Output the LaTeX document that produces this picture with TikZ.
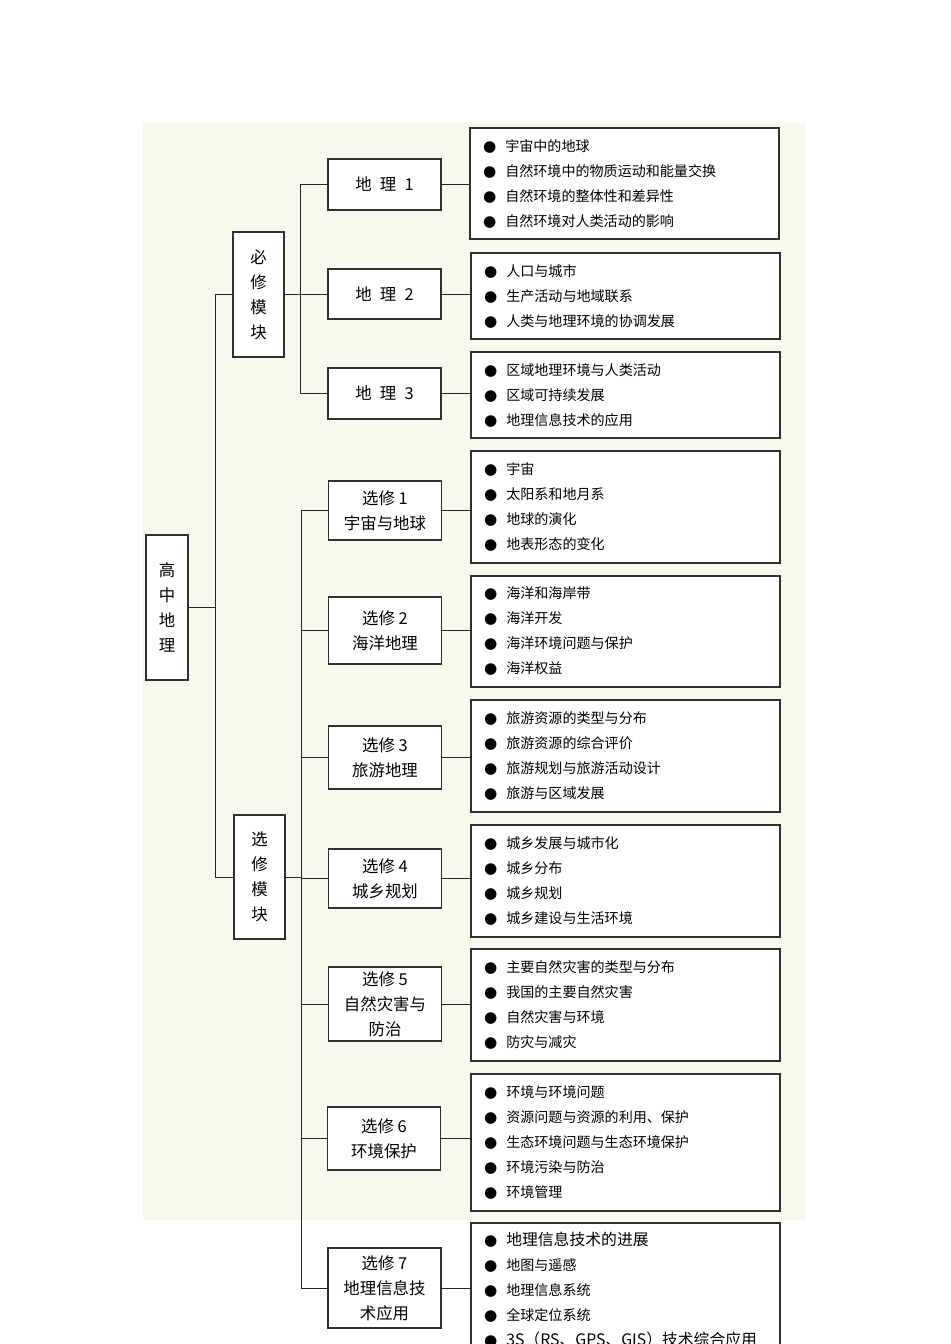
\documentclass[tikz,border=0pt]{standalone}
\usepackage{fontspec}
\setmainfont{Noto Sans CJK SC}
\newfontfamily\symfont{DejaVu Sans}
\definecolor{paper}{HTML}{F8F8EC}
\definecolor{inkgray}{HTML}{303030}
\newcommand{\dotitem}{{\symfont\fontsize{13pt}{13pt}\selectfont ●}\hspace{0.27cm}}
\newcommand{\bigitem}{\fontsize{13.5pt}{21.34pt}\selectfont}

\begin{document}
\begin{tikzpicture}[x=0.03cm, y=-0.03cm,
  colbox/.style ={draw=inkgray, line width=0.9pt, fill=white, inner sep=0pt,
                  align=center, font=\fontsize{14pt}{21.34pt}\selectfont},
  modbox/.style ={draw=inkgray, line width=0.9pt, fill=white, inner sep=0pt,
                  minimum width=3.39cm, align=center,
                  font=\fontsize{14pt}{21.34pt}\selectfont},
  listbox/.style={draw=inkgray, line width=0.9pt, fill=white, text width=8.49cm,
                  inner xsep=0.39cm, inner ysep=0pt, align=left,
                  font=\fontsize{12pt}{21.34pt}\selectfont},
  wire/.style   ={line width=0.8pt, black!85},
]
\useasboundingbox (0,0) rectangle (950,1344);
\clip (0,0) rectangle (950,1344);
\fill[paper] (143,123) rectangle (806,1220);

% ---------------- root and the two module groups ----------------
\node[colbox, minimum width=1.26cm, minimum height=4.35cm] (gz) at (167,607.5) {高\\中\\地\\理};
\node[colbox, minimum width=1.53cm, minimum height=3.75cm] (bx) at (258.5,294.5) {必\\修\\模\\块};
\node[colbox, minimum width=1.53cm, minimum height=3.72cm] (xm) at (259.5,877) {选\\修\\模\\块};

% ---------------- compulsory courses ----------------
\node[modbox, minimum height=1.53cm] (dl1) at (384.5,184.5) {地\enspace 理\enspace 1};
\node[modbox, minimum height=1.50cm] (dl2) at (384.5,294)   {地\enspace 理\enspace 2};
\node[modbox, minimum height=1.53cm] (dl3) at (384.5,393.5) {地\enspace 理\enspace 3};

% ---------------- elective courses ----------------
\node[modbox, minimum height=1.77cm] (xx1) at (385,510.5)  {选修 1\\宇宙与地球};
\node[modbox, minimum height=2.01cm] (xx2) at (385,630.5)  {选修 2\\海洋地理};
\node[modbox, minimum height=1.89cm] (xx3) at (385,757.5)  {选修 3\\旅游地理};
\node[modbox, minimum height=1.77cm] (xx4) at (385,878.5)  {选修 4\\城乡规划};
\node[modbox, minimum height=2.22cm] (xx5) at (385,1004)   {选修 5\\自然灾害与\\防治};
\node[modbox, minimum height=1.89cm] (xx6) at (384,1138.5) {选修 6\\环境保护};
\node[modbox, minimum height=2.40cm] (xx7) at (384.5,1288) {选修 7\\地理信息技\\术应用};

% ---------------- content lists ----------------
\node[listbox, minimum height=3.33cm] (ls1) at (624.5,183.5) {%
  \dotitem 宇宙中的地球\\
  \dotitem 自然环境中的物质运动和能量交换\\
  \dotitem 自然环境的整体性和差异性\\
  \dotitem 自然环境对人类活动的影响};
\node[listbox, minimum height=2.58cm] (ls2) at (625.5,296) {%
  \dotitem 人口与城市\\
  \dotitem 生产活动与地域联系\\
  \dotitem 人类与地理环境的协调发展};
\node[listbox, minimum height=2.58cm] (ls3) at (625.5,395) {%
  \dotitem 区域地理环境与人类活动\\
  \dotitem 区域可持续发展\\
  \dotitem 地理信息技术的应用};
\node[listbox, minimum height=3.36cm] (ls4) at (625.5,507) {%
  \dotitem 宇宙\\
  \dotitem 太阳系和地月系\\
  \dotitem 地球的演化\\
  \dotitem 地表形态的变化};
\node[listbox, minimum height=3.33cm] (ls5) at (625.5,631.5) {%
  \dotitem 海洋和海岸带\\
  \dotitem 海洋开发\\
  \dotitem 海洋环境问题与保护\\
  \dotitem 海洋权益};
\node[listbox, minimum height=3.36cm] (ls6) at (625.5,756) {%
  \dotitem 旅游资源的类型与分布\\
  \dotitem 旅游资源的综合评价\\
  \dotitem 旅游规划与旅游活动设计\\
  \dotitem 旅游与区域发展};
\node[listbox, minimum height=3.36cm] (ls7) at (625.5,881) {%
  \dotitem 城乡发展与城市化\\
  \dotitem 城乡分布\\
  \dotitem 城乡规划\\
  \dotitem 城乡建设与生活环境};
\node[listbox, minimum height=3.36cm] (ls8) at (625.5,1005) {%
  \dotitem 主要自然灾害的类型与分布\\
  \dotitem 我国的主要自然灾害\\
  \dotitem 自然灾害与环境\\
  \dotitem 防灾与减灾};
\node[listbox, minimum height=4.11cm] (ls9) at (625.5,1142.5) {%
  \dotitem 环境与环境问题\\
  \dotitem 资源问题与资源的利用、保护\\
  \dotitem 生态环境问题与生态环境保护\\
  \dotitem 环境污染与防治\\
  \dotitem 环境管理};
\node[listbox, minimum height=4.02cm] (ls10) at (625.5,1290) {%
  \dotitem {\bigitem 地理信息技术的进展}\\
  \dotitem 地图与遥感\\
  \dotitem 地理信息系统\\
  \dotitem 全球定位系统\\
  \dotitem \makebox[0pt][l]{\bigitem 3S（RS、GPS、GIS）技术综合应用}};

% ---------------- tree lines ----------------
\coordinate (trunk) at (215,0);
\coordinate (bbus)  at (300,0);
\coordinate (xbus)  at (301,0);

\draw[wire] (gz.east) -- (gz.east -| trunk);
\draw[wire] (bx.west -| trunk) -- (xm.west -| trunk);
\draw[wire] (bx.west -| trunk) -- (bx.west);
\draw[wire] (xm.west -| trunk) -- (xm.west);

\draw[wire] (bx.east) -- (bx.east -| bbus);
\draw[wire] (dl1.west -| bbus) -- (dl3.west -| bbus);
\foreach \n in {dl1,dl2,dl3}
  \draw[wire] (\n.west -| bbus) -- (\n.west);

\draw[wire] (xm.east) -- (xm.east -| xbus);
\draw[wire] (xx1.west -| xbus) -- (xx7.west -| xbus);
\foreach \n in {xx1,xx2,xx3,xx4,xx5,xx6,xx7}
  \draw[wire] (\n.west -| xbus) -- (\n.west);

\foreach \a/\b in {dl1/ls1,dl2/ls2,dl3/ls3,xx1/ls4,xx2/ls5,xx3/ls6,
                   xx4/ls7,xx5/ls8,xx6/ls9,xx7/ls10}
  \draw[wire] (\a.east) -- (\a.east -| \b.west);

\end{tikzpicture}
\end{document}
